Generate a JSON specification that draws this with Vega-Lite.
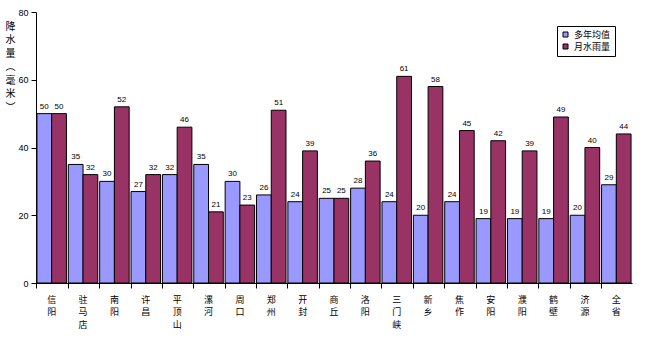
{
  "$schema": "https://vega.github.io/schema/vega-lite/v6.json",
  "autosize": {"type": "none"},
  "width": 596,
  "height": 271,
  "padding": {"left": 36, "top": 12, "right": 21, "bottom": 76},
  "background": "white",
  "config": {
    "view": {"stroke": null},
    "font": "Noto Sans CJK SC",
    "axis": {"grid": false, "domainColor": "black", "tickColor": "black", "labelColor": "black", "titleColor": "black"}
  },
  "data": {
    "values": [
      {"city": "信阳", "series": "多年均值", "value": 50}, {"city": "信阳", "series": "月水雨量", "value": 50},
      {"city": "驻马店", "series": "多年均值", "value": 35}, {"city": "驻马店", "series": "月水雨量", "value": 32},
      {"city": "南阳", "series": "多年均值", "value": 30}, {"city": "南阳", "series": "月水雨量", "value": 52},
      {"city": "许昌", "series": "多年均值", "value": 27}, {"city": "许昌", "series": "月水雨量", "value": 32},
      {"city": "平顶山", "series": "多年均值", "value": 32}, {"city": "平顶山", "series": "月水雨量", "value": 46},
      {"city": "漯河", "series": "多年均值", "value": 35}, {"city": "漯河", "series": "月水雨量", "value": 21},
      {"city": "周口", "series": "多年均值", "value": 30}, {"city": "周口", "series": "月水雨量", "value": 23},
      {"city": "郑州", "series": "多年均值", "value": 26}, {"city": "郑州", "series": "月水雨量", "value": 51},
      {"city": "开封", "series": "多年均值", "value": 24}, {"city": "开封", "series": "月水雨量", "value": 39},
      {"city": "商丘", "series": "多年均值", "value": 25}, {"city": "商丘", "series": "月水雨量", "value": 25},
      {"city": "洛阳", "series": "多年均值", "value": 28}, {"city": "洛阳", "series": "月水雨量", "value": 36},
      {"city": "三门峡", "series": "多年均值", "value": 24}, {"city": "三门峡", "series": "月水雨量", "value": 61},
      {"city": "新乡", "series": "多年均值", "value": 20}, {"city": "新乡", "series": "月水雨量", "value": 58},
      {"city": "焦作", "series": "多年均值", "value": 24}, {"city": "焦作", "series": "月水雨量", "value": 45},
      {"city": "安阳", "series": "多年均值", "value": 19}, {"city": "安阳", "series": "月水雨量", "value": 42},
      {"city": "濮阳", "series": "多年均值", "value": 19}, {"city": "濮阳", "series": "月水雨量", "value": 39},
      {"city": "鹤壁", "series": "多年均值", "value": 19}, {"city": "鹤壁", "series": "月水雨量", "value": 49},
      {"city": "济源", "series": "多年均值", "value": 20}, {"city": "济源", "series": "月水雨量", "value": 40},
      {"city": "全省", "series": "多年均值", "value": 29}, {"city": "全省", "series": "月水雨量", "value": 44}
    ]
  },
  "encoding": {
    "x": {
      "field": "city", "type": "nominal", "sort": null,
      "scale": {"paddingInner": 0.06, "paddingOuter": 0.03},
      "axis": {
        "title": null, "labelAngle": 0, "bandPosition": 0, "tickSize": 5,
        "labelExpr": "split(datum.label, '')", "labelLineHeight": 12.5,
        "labelFontSize": 9, "labelPadding": 7, "labelBaseline": "top"
      }
    },
    "xOffset": {"field": "series", "type": "nominal", "sort": ["多年均值", "月水雨量"]},
    "y": {
      "field": "value", "type": "quantitative",
      "scale": {"domain": [0, 80]},
      "axis": {
        "values": [0, 20, 40, 60, 80], "tickSize": 5, "labelFontSize": 9, "labelFont": "Liberation Sans",
        "labelPadding": 3,
        "title": ["降", "水", "量", "︵", "毫", "米", "︶"],
        "titleAngle": 0, "titleX": -26, "titleY": 9, "titleAlign": "center", "titleBaseline": "top",
        "titleFontSize": 10, "titleFontWeight": "normal", "titleLineHeight": 13.5
      }
    }
  },
  "layer": [
    {
      "mark": {"type": "bar", "stroke": "black", "strokeWidth": 1},
      "encoding": {
        "color": {
          "field": "series", "type": "nominal",
          "scale": {"domain": ["多年均值", "月水雨量"], "range": ["#9999FF", "#993366"]},
          "legend": {
            "title": null, "orient": "none", "legendX": 521, "legendY": 14,
            "strokeColor": "black", "fillColor": "white", "padding": 4,
            "symbolType": "square", "symbolSize": 25, "symbolStrokeColor": "black", "symbolStrokeWidth": 1,
            "labelFontSize": 9, "rowPadding": 2
          }
        }
      }
    },
    {
      "mark": {"type": "text", "dy": -7, "fontSize": 8, "font": "Liberation Sans", "color": "black"},
      "encoding": {"text": {"field": "value", "type": "quantitative"}}
    }
  ]
}
